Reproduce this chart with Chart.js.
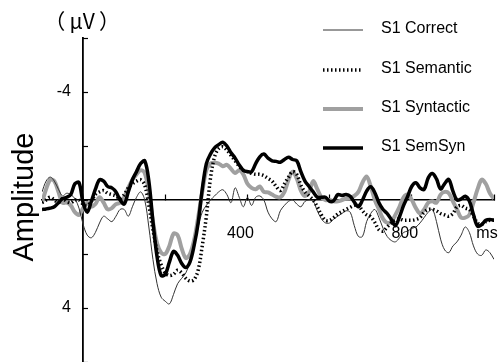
<!DOCTYPE html>
<html>
<head>
<meta charset="utf-8">
<script src="https://cdn.jsdelivr.net/npm/chart.js@4.4.1/dist/chart.umd.min.js"></script>
<style>
  html, body { margin: 0; padding: 0; background: #fff; }
  #wrap { position: relative; width: 499px; height: 362px; }
</style>
</head>
<body>
<div id="wrap"><canvas id="erpChart" width="499" height="362"></canvas></div>
<script>
// time points (ms)
const times = [-100, -90, -80, -70, -60, -50, -40, -30, -20, -10,
    0, 10, 20, 30, 40, 50, 60, 70, 80, 90,
    100, 110, 120, 130, 140, 150, 160, 170, 180, 190,
    200, 210, 220, 230, 240, 250, 260, 270, 280, 290,
    300, 310, 320, 330, 340, 350, 360, 370, 380, 390,
    400, 410, 420, 430, 440, 450, 460, 470, 480, 490,
    500, 510, 520, 530, 540, 550, 560, 570, 580, 590,
    600, 610, 620, 630, 640, 650, 660, 670, 680, 690,
    700, 710, 720, 730, 740, 750, 760, 770, 780, 790,
    800, 810, 820, 830, 840, 850, 860, 870, 880, 890,
    900, 910, 920, 930, 940, 950, 960, 970, 980, 990, 1000];

// amplitudes (uV), negative up
const correct = [-0.3, -0.7, -0.85, -0.7, -0.4, -0.15, -0.25, -0.2, -0.05, 0.3,
    0.9, 1.3, 1.4, 1.2, 0.85, 0.6, 0.7, 0.8, 0.6, 0.35,
    0.35, 0.6, 0.25, -0.1, -0.3, 0, 1.0, 2.2, 3.1, 3.6,
    3.75, 3.85, 3.5, 3.1, 2.9, 2.7, 2.3, 1.7, 1.0, 0.45,
    0.2, 0, -0.15, -0.3, -0.38, -0.2, 0.1, -0.45, -0.1, 0.25,
    -0.1, 0.2, -0.1, -0.15, 0, 0.45, 0.7, 0.8, 0.4, 0.2,
    0.05, 0, 0.15, 0.25, 0.05, 0, 0.05, 0.4, 0.7, 0.85,
    0.85, 0.7, 0.6, 0.5, 0.4, 0.45, 0.95, 1.35, 1.35, 0.8,
    0.5, 0.35, 0.65, 1.05, 1.35, 1.5, 1.55, 1.4, 1.2, 1.15,
    1.05, 1.0, 0.85, 0.65, 0.45, 0.35, 0.8, 1.45, 1.85, 1.95,
    1.7, 1.55, 1.3, 1.0, 1.2, 1.7, 2.0, 2.05, 1.85, 1.95, 2.2];

const semantic = [0.1, 0, -0.1, 0, 0.1, -0.05, 0.05, 0.1, 0, 0,
    0.15, 0.2, 0.05, -0.2, -0.3, -0.35, -0.25, -0.2, -0.15, -0.05,
    -0.2, -0.45, -0.6, -0.7, -0.75, -0.55, 0.2, 1.1, 1.9, 2.4,
    2.7, 2.8, 2.75, 2.6, 2.7, 2.9, 3.0, 2.95, 2.6, 1.7,
    0.6, -0.8, -1.6, -1.9, -1.97, -1.85, -1.65, -1.45, -1.25, -1.1,
    -1.05, -0.98, -0.95, -0.95, -0.9, -0.8, -0.7, -0.5, -0.35, -0.6,
    -0.85, -1.05, -0.95, -0.55, -0.3, -0.15, 0, 0.25, 0.55, 0.75,
    0.75, 0.65, 0.52, 0.43, 0.35, 0.27, 0.2, 0.2, 0.4, 0.55,
    0.62, 0.83, 1.1, 1.15, 1.0, 0.85, 0.75, 0.7, 0.75, 0.75,
    0.75, 0.72, 0.65, 0.45, 0.35, 0.35, 0.4, 0.5, 0.55, 0.6,
    0.5, 0.25, 0.2, 0.3, 0.35, 0.6, 0.85, 0.9, 0.8, 0.75, 0.75];

const syntactic = [0.1, -0.4, -0.75, -0.7, -0.3, 0.1, 0.1, 0.2, 0.45, 0.55,
    0.3, 0.1, 0.25, 0.15, -0.1, 0.1, 0.35, 0.3, 0.15, 0.1,
    -0.1, -0.45, -0.75, -0.95, -1.1, -1.0, -0.3, 0.8, 1.6, 1.95,
    2.0, 1.7, 1.25, 1.3, 1.8, 2.15, 2.0, 1.5, 0.65, -0.3,
    -1.1, -1.35, -1.38, -1.35, -1.25, -1.3, -1.15, -1.0, -1.1, -0.95,
    -0.6, -0.45, -0.4, -0.5, -0.3, -0.28, -0.2, -0.12, -0.1, -0.3,
    -0.75, -1.05, -0.8, -0.35, -0.15, -0.3, -0.7, -0.4, -0.1, 0,
    0, 0.05, 0.05, 0, -0.05, -0.08, -0.15, -0.3, -0.65, -0.87,
    -0.5, 0, 0.35, 0.7, 0.85, 0.8, 0.55, 0.25, -0.1, -0.2,
    0, 0.3, 0.5, 0.35, 0.1, 0.05, 0.1, -0.2, -0.3, -0.25,
    0.05, 0.35, 0.65, 0.65, 0.55, 0.1, -0.4, -0.75, -0.6, -0.25, -0.05];

const semsyn = [0.35, 0.33, 0.3, 0.25, 0.1, -0.05, -0.1, -0.2, -0.6, -0.65,
    0.1, 0.45, 0.05, -0.4, -0.75, -0.7, -0.5, -0.45, -0.3, 0,
    0.15, -0.3, -0.75, -1.05, -1.35, -1.45, -0.7, 0.8, 2.1, 2.8,
    2.75, 2.3, 1.9, 2.05, 2.35, 2.5, 2.3, 1.7, 0.85, -0.4,
    -1.35, -1.7, -1.93, -2.05, -2.14, -2.0, -1.75, -1.55, -1.3, -1.1,
    -1.05, -1.05, -1.35, -1.6, -1.7, -1.55, -1.45, -1.43, -1.4, -1.5,
    -1.58, -1.5, -1.45, -1.05, -0.7, -0.5, -0.3, -0.1, -0.1, -0.1,
    0.05, 0.02, -0.2, -0.17, -0.2, -0.14, 0.08, 0.25, 0, -0.33,
    -0.49, -0.27, 0.1, 0.35, 0.5, 0.72, 0.95, 0.62, 0.2, -0.14,
    -0.51, -0.64, -0.45, -0.39, -0.82, -0.98, -0.78, -0.41, -0.61, -0.76,
    -0.33, 0, -0.04, -0.14, 0.04, 0.54, 0.97, 0.91, 0.75, 0.72, 0.75];

const seriesNames = ['S1 Correct', 'S1 Semantic', 'S1 Syntactic', 'S1 SemSyn'];
const xTickValues = [200, 400, 600, 800, 1000];
const xTickLabels = { 400: '400', 800: '800', 1000: 'ms' };
const yTickLabels = { '-4': '-4', '4': '4' };

const FONT = "'Liberation Sans', Arial, sans-serif";

function toPoints(values) {
    return times.map((t, i) => ({ x: t, y: values[i] }));
}

// centred axes should not eat into the plot area
function noSpace(scale) {
    scale.width = scale.isHorizontal() ? scale.width : 0;
    scale.height = scale.isHorizontal() ? 0 : scale.height;
    scale.paddingLeft = 0;
    scale.paddingRight = 0;
    scale.paddingTop = 0;
    scale.paddingBottom = 0;
}

// legend on the right + axis titles
const decorPlugin = {
    id: 'decor',
    afterDraw(chart) {
        const ctx = chart.ctx;
        ctx.save();

        // legend
        const rows = [30, 70, 109, 148];
        ctx.font = '16px ' + FONT;
        ctx.textBaseline = 'middle';
        ctx.textAlign = 'left';
        chart.data.datasets.forEach((ds, i) => {
            ctx.beginPath();
            ctx.strokeStyle = ds.borderColor;
            ctx.lineWidth = ds.borderWidth;
            ctx.setLineDash(ds.borderDash || []);
            ctx.moveTo(323, rows[i]);
            ctx.lineTo(363, rows[i]);
            ctx.stroke();
            ctx.setLineDash([]);
            ctx.fillStyle = '#000';
            ctx.fillText(ds.label, 381, rows[i] - 1);
        });

        // unit above the y axis
        const x0 = chart.scales.x.getPixelForValue(0);
        ctx.font = "21px 'Noto Sans CJK JP', sans-serif";
        ctx.textAlign = 'center';
        ctx.fillText('（\u2009μV\u2009）', x0 - 1, 21);

        // rotated axis title
        ctx.translate(33, 197);
        ctx.rotate(-Math.PI / 2);
        ctx.font = '29px ' + FONT;
        ctx.textBaseline = 'alphabetic';
        ctx.fillText('Amplitude', 0, 0);
        ctx.restore();
    }
};

const ctx = document.getElementById('erpChart').getContext('2d');
new Chart(ctx, {
    type: 'line',
    data: {
        datasets: [
            {
                label: seriesNames[0],
                data: toPoints(correct),
                borderColor: '#333333',
                borderWidth: 1,
                order: 2
            },
            {
                label: seriesNames[1],
                data: toPoints(semantic),
                borderColor: '#000000',
                borderWidth: 3.5,
                borderDash: [1.5, 2.5],
                order: 0
            },
            {
                label: seriesNames[2],
                data: toPoints(syntactic),
                borderColor: '#a0a0a0',
                borderWidth: 4,
                order: 3
            },
            {
                label: seriesNames[3],
                data: toPoints(semsyn),
                borderColor: '#000000',
                borderWidth: 3.5,
                order: 1
            }
        ]
    },
    options: {
        responsive: false,
        animation: false,
        events: [],
        elements: {
            point: { radius: 0 },
            line: { tension: 0.35, fill: false }
        },
        layout: {
            padding: { left: 42, right: 5, top: 38, bottom: 0 }
        },
        plugins: {
            legend: { display: false },
            tooltip: { enabled: false }
        },
        scales: {
            x: {
                type: 'linear',
                min: -100,
                max: 1000,
                position: { y: 0 },
                afterFit: noSpace,
                afterBuildTicks: (s) => { s.ticks = xTickValues.map(v => ({ value: v })); },
                grid: { drawOnChartArea: false, tickLength: -6, tickColor: '#000', tickWidth: 1.2 },
                border: { color: '#000', width: 1.5 },
                ticks: {
                    padding: 30,
                    labelOffset: -7,
                    maxRotation: 0,
                    autoSkip: false,
                    color: '#000',
                    font: { family: FONT, size: 16 },
                    callback: (v) => xTickLabels[v] || ''
                }
            },
            y: {
                type: 'linear',
                min: -6,
                max: 6,
                reverse: true,
                position: { x: 0 },
                afterFit: noSpace,
                grid: { drawOnChartArea: false, tickLength: -6, tickColor: '#000', tickWidth: 1.2 },
                border: { color: '#000', width: 1.8 },
                ticks: {
                    stepSize: 2,
                    color: '#000',
                    font: { family: FONT, size: 16 },
                    // labels sit right-aligned on the axis; pad them off it
                    callback: (v) => yTickLabels[String(v)] ? yTickLabels[String(v)] + '  \u2009' : ''
                }
            }
        }
    },
    plugins: [decorPlugin]
});
</script>
</body>
</html>
